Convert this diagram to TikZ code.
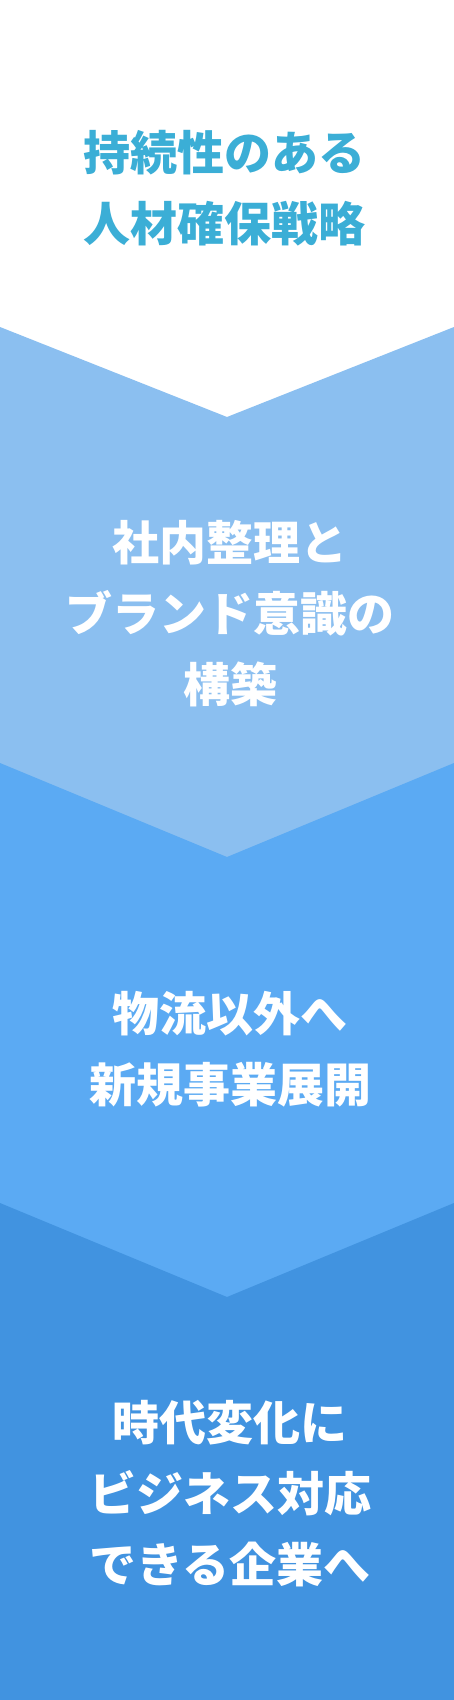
\documentclass[tikz,border=0pt]{standalone}
\usepackage{fontspec}
\usepackage{xcolor}
\usepackage{tikz}
\newfontfamily\cjk{Noto Sans CJK JP Black}
\definecolor{tealtext}{HTML}{3BAED6}
\definecolor{bandlight}{HTML}{8BBFF0}
\definecolor{bandmid}{HTML}{5BAAF3}
\definecolor{banddark}{HTML}{4193E0}

\begin{document}
\begin{tikzpicture}[x=1pt,y=-1pt,
            chevron/.style={draw=none},
            stagetext/.style={align=center, inner sep=0pt, text=white,
              font=\cjk\fontsize{47}{71}\selectfont}]
				\useasboundingbox (0,0) rectangle (454,1700);
				\fill[white] (0,0) rectangle (454,1700);

				\fill[chevron,bandlight] (0,327) -- (227,417) -- (454,327) -- (454,1700) -- (0,1700) -- cycle;
				\fill[chevron,bandmid] (0,763) -- (227,857) -- (454,763) -- (454,1700) -- (0,1700) -- cycle;
				\fill[chevron,banddark] (0,1203) -- (227,1297) -- (454,1203) -- (454,1700) -- (0,1700) -- cycle;

				\node[stagetext,text=tealtext] (goal) at (224,188) {持続性のある\\人材確保戦略};
				\node[stagetext] (brand) at (230,614) {社内整理と\\ブランド意識の\\構築};
				\node[stagetext] (expand) at (230,1049) {物流以外へ\\新規事業展開};
				\node[stagetext] (future) at (230,1494) {時代変化に\\ビジネス対応\\できる企業へ};
 		\end{tikzpicture}
\end{document}
